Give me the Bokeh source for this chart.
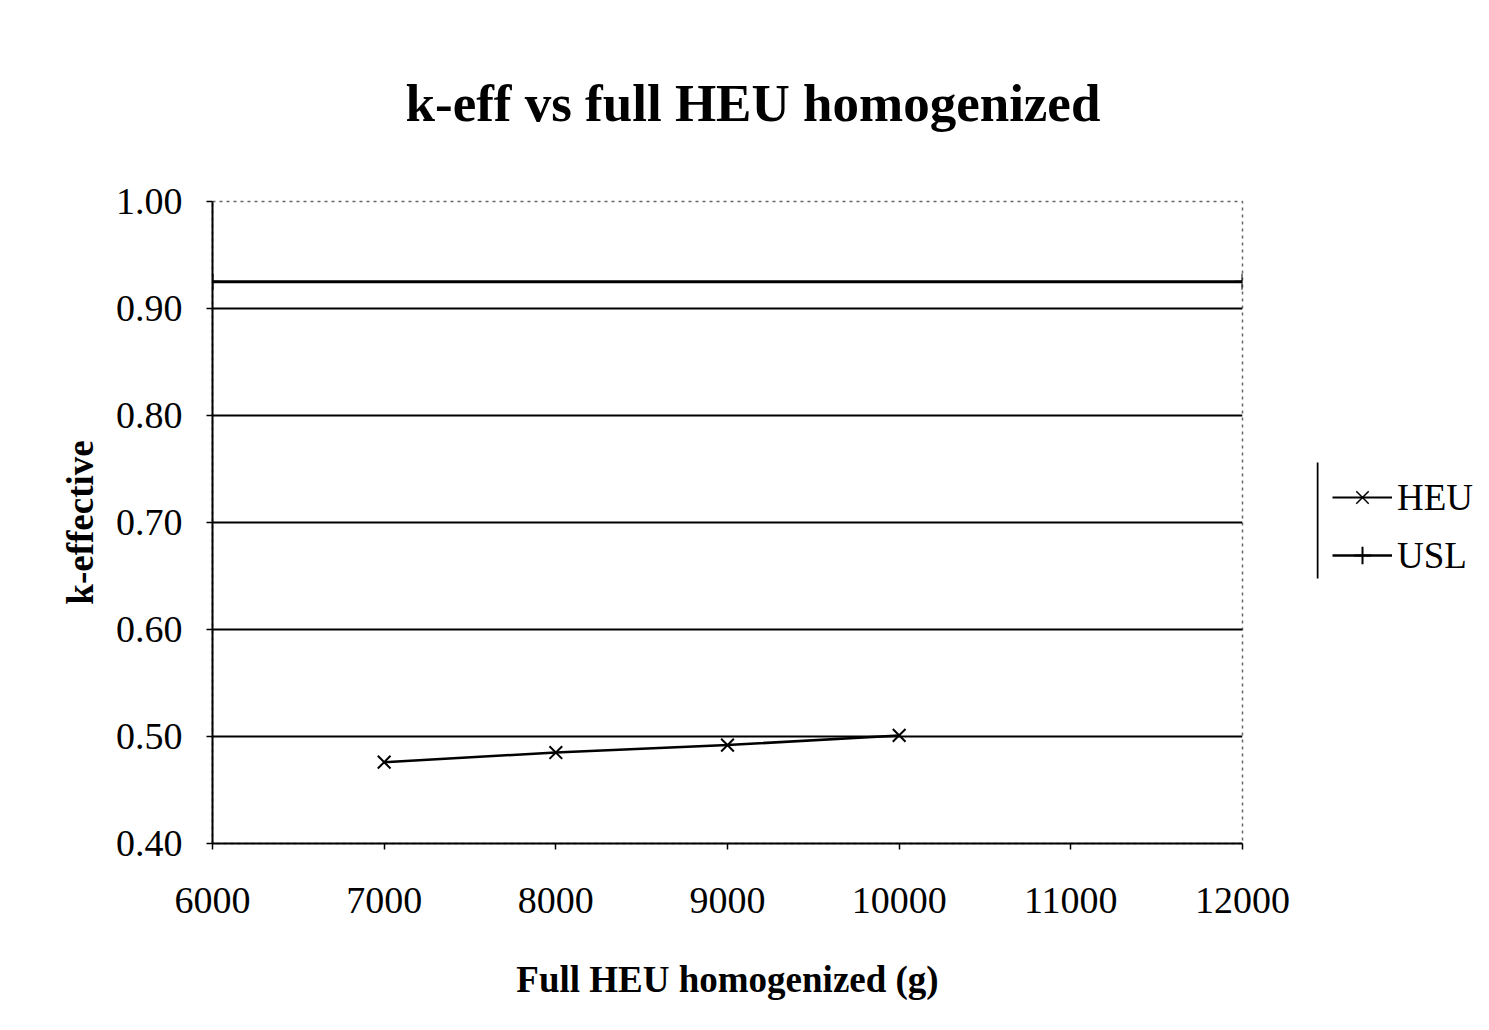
from bokeh.plotting import figure
from bokeh.layouts import row
from bokeh.models import Range1d, FixedTicker, Legend, LegendItem
from bokeh.embed import file_html
from bokeh.resources import INLINE

# data
heu_mass = [7000, 8000, 9000, 10000]
heu_keff = [0.476, 0.485, 0.492, 0.501]
usl_mass = [6000, 12000]
usl_keff = [0.925, 0.925]
x_ticks = [6000, 7000, 8000, 9000, 10000, 11000, 12000]
y_ticks = [0.40, 0.50, 0.60, 0.70, 0.80, 0.90, 1.00]
grid_ticks = [0.50, 0.60, 0.70, 0.80, 0.90]
series_names = ["HEU", "USL"]

FONT = "Liberation Serif"
H = 1014
W_MAIN = 1290
W_LEG = 183
FRAME_H = 642  # frame height shared by both figures in the row

p = figure(width=W_MAIN, height=H, output_backend="svg", toolbar_location=None,
           x_range=Range1d(6000, 12000), y_range=Range1d(0.40, 1.00),
           min_border_left=212, min_border_right=W_MAIN - 1242, min_border_top=201, min_border_bottom=171)

p.background_fill_color = "white"
p.border_fill_color = "white"
p.outline_line_color = "black"
p.outline_line_dash = "3 4"
p.outline_line_alpha = 0.6
p.outline_line_width = 1.5

# title
p.title.text = "k-eff vs full HEU homogenized"
p.title.text_font = FONT
p.title.text_font_size = "53px"
p.title.text_font_style = "bold"
p.title.text_color = "black"
p.title.align = "left"
p.title.offset = 193
p.title.standoff = 140

# axes
for ax in (p.xaxis[0], p.yaxis[0]):
    ax.axis_line_color = "black"
    ax.axis_line_width = 2
    ax.major_tick_line_color = "black"
    ax.major_tick_line_width = 1.5
    ax.major_tick_out = 6
    ax.major_tick_in = 0
    ax.minor_tick_line_color = None
    ax.major_label_text_font = FONT
    ax.major_label_text_font_size = "38px"
    ax.major_label_text_color = "black"
    ax.axis_label_text_font = FONT
    ax.axis_label_text_font_size = "37px"
    ax.axis_label_text_font_style = "bold"
    ax.axis_label_text_color = "black"

p.xaxis.ticker = FixedTicker(ticks=x_ticks)
p.yaxis.ticker = FixedTicker(ticks=y_ticks)
p.yaxis.major_label_overrides = {t: f"{t:.2f}" for t in y_ticks}
p.xaxis.major_label_overrides = {t: str(t) for t in x_ticks}
p.xaxis.axis_label = "Full HEU homogenized (g)"
p.yaxis.axis_label = "k-effective"
p.xaxis.major_label_standoff = 38
p.yaxis.major_label_standoff = 24
p.xaxis.axis_label_standoff = 43
p.yaxis.axis_label_standoff = 12

p.xgrid.grid_line_color = None
p.ygrid.ticker = FixedTicker(ticks=grid_ticks)
p.ygrid.grid_line_color = "black"
p.ygrid.grid_line_width = 2

# series
p.line(heu_mass, heu_keff, line_color="black", line_width=2.5)
p.scatter(heu_mass, heu_keff, marker="x", size=18, line_color="black", line_width=2)
p.line(usl_mass, usl_keff, line_color="black", line_width=3)
p.scatter(usl_mass, usl_keff, marker="cross", size=16, line_color="black", line_width=2)

# legend panel (separate figure; the glyphs use the same data, out of its view)
lf = figure(width=W_LEG, height=H, output_backend="svg", toolbar_location=None,
            x_axis_type=None, y_axis_type=None,
            x_range=Range1d(0, W_LEG - 26), y_range=Range1d(0, FRAME_H),
            min_border_left=26, min_border_right=0, min_border_top=201, min_border_bottom=171)
lf.outline_line_color = None
lf.background_fill_color = "white"
lf.border_fill_color = "white"
lf.xgrid.grid_line_color = None
lf.ygrid.grid_line_color = None

l_heu = lf.line(heu_mass, heu_keff, line_color="black", line_width=2)
m_heu = lf.scatter(heu_mass, heu_keff, marker="x", size=13, line_color="black", line_width=1.5)
l_usl = lf.line(usl_mass, usl_keff, line_color="black", line_width=2.5)
m_usl = lf.scatter(usl_mass, usl_keff, marker="cross", size=14, line_color="black", line_width=2)
# legend box left edge
lf.segment(x0=[1], y0=[843 - 578], x1=[1], y1=[843 - 462], line_color="black", line_width=2)

legend = Legend(items=[LegendItem(label=series_names[0], renderers=[l_heu, m_heu]),
                       LegendItem(label=series_names[1], renderers=[l_usl, m_usl])],
                location=(16, 843 - 577))
legend.label_text_font = FONT
legend.label_text_font_size = "37px"
legend.label_text_color = "black"
legend.glyph_width = 60
legend.glyph_height = 44
legend.label_height = 44
legend.label_standoff = 5
legend.spacing = 14
legend.padding = 0
legend.margin = 0
legend.border_line_color = None
legend.background_fill_alpha = 0
lf.add_layout(legend, "center")

layout = row(p, lf, spacing=0)
open("out.html", "w").write(file_html(layout, INLINE))
